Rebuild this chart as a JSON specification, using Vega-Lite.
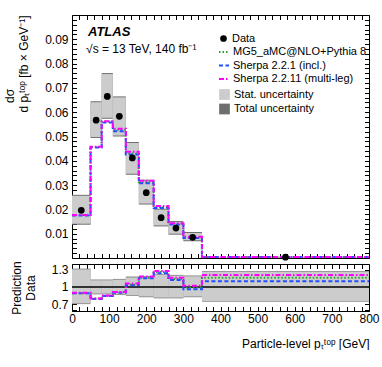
{
  "$schema": "https://vega.github.io/schema/vega-lite/v6.json",
  "padding": {"left": 3, "top": 13, "right": 13, "bottom": 0},
  "spacing": -2,
  "config": {
    "font": "Liberation Sans",
    "view": {"stroke": "black", "strokeWidth": 1},
    "axis": {
      "domain": false, "grid": false, "ticks": true, "tickSize": -4.5, "tickColor": "black", "tickWidth": 1,
      "labelFont": "Liberation Sans", "labelFontSize": 12, "labelColor": "black",
      "labelOverlap": false, "labelFlush": false,
      "titleFont": "Liberation Sans", "titleFontSize": 12, "titleFontWeight": "normal", "titleColor": "black"
    },
    "legend": {
      "labelFont": "Liberation Sans", "labelFontSize": 11, "labelColor": "black", "labelOffset": 3,
      "rowPadding": 2.5, "symbolStrokeWidth": 2, "title": null
    }
  },
  "datasets": {
    "bins": [
      {"lo": 0, "hi": 50, "c": 25, "data": 0.0196, "tlo": 0.0137, "thi": 0.0260, "slo": 0.0141, "shi": 0.0256},
      {"lo": 50, "hi": 80, "c": 65, "data": 0.0567, "tlo": 0.0494, "thi": 0.0645, "slo": 0.0498, "shi": 0.0641},
      {"lo": 80, "hi": 110, "c": 95, "data": 0.0665, "tlo": 0.0573, "thi": 0.0761, "slo": 0.0577, "shi": 0.0757},
      {"lo": 110, "hi": 145, "c": 127.5, "data": 0.0583, "tlo": 0.0500, "thi": 0.0665, "slo": 0.0504, "shi": 0.0661},
      {"lo": 145, "hi": 180, "c": 162.5, "data": 0.0412, "tlo": 0.0343, "thi": 0.0477, "slo": 0.0347, "shi": 0.0473},
      {"lo": 180, "hi": 220, "c": 200, "data": 0.0269, "tlo": 0.0220, "thi": 0.0322, "slo": 0.0224, "shi": 0.0318},
      {"lo": 220, "hi": 260, "c": 240, "data": 0.0166, "tlo": 0.0130, "thi": 0.0203, "slo": 0.0134, "shi": 0.0199},
      {"lo": 260, "hi": 300, "c": 280, "data": 0.0123, "tlo": 0.0096, "thi": 0.0152, "slo": 0.0100, "shi": 0.0148},
      {"lo": 300, "hi": 350, "c": 325, "data": 0.0085, "tlo": 0.0069, "thi": 0.0107, "slo": 0.0073, "shi": 0.0103},
      {"lo": 350, "hi": 800, "c": 575, "data": 0.00035, "tlo": 0.00026, "thi": 0.00045, "slo": 0.00028, "shi": 0.00043}
    ],
    "pred": [
      {"x": 0, "series": "MG5_aMC@NLO+Pythia 8", "v": 0.0177},
      {"x": 50, "series": "MG5_aMC@NLO+Pythia 8", "v": 0.0457},
      {"x": 80, "series": "MG5_aMC@NLO+Pythia 8", "v": 0.0562},
      {"x": 110, "series": "MG5_aMC@NLO+Pythia 8", "v": 0.0528},
      {"x": 145, "series": "MG5_aMC@NLO+Pythia 8", "v": 0.0430},
      {"x": 180, "series": "MG5_aMC@NLO+Pythia 8", "v": 0.0312},
      {"x": 220, "series": "MG5_aMC@NLO+Pythia 8", "v": 0.0210},
      {"x": 260, "series": "MG5_aMC@NLO+Pythia 8", "v": 0.0141},
      {"x": 300, "series": "MG5_aMC@NLO+Pythia 8", "v": 0.0084},
      {"x": 350, "series": "MG5_aMC@NLO+Pythia 8", "v": 0.00041},
      {"x": 800, "series": "MG5_aMC@NLO+Pythia 8", "v": 0.00041},
      {"x": 0, "series": "Sherpa 2.2.1 (incl.)", "v": 0.0175},
      {"x": 50, "series": "Sherpa 2.2.1 (incl.)", "v": 0.0455},
      {"x": 80, "series": "Sherpa 2.2.1 (incl.)", "v": 0.0558},
      {"x": 110, "series": "Sherpa 2.2.1 (incl.)", "v": 0.0522},
      {"x": 145, "series": "Sherpa 2.2.1 (incl.)", "v": 0.0426},
      {"x": 180, "series": "Sherpa 2.2.1 (incl.)", "v": 0.0308},
      {"x": 220, "series": "Sherpa 2.2.1 (incl.)", "v": 0.0206},
      {"x": 260, "series": "Sherpa 2.2.1 (incl.)", "v": 0.0138},
      {"x": 300, "series": "Sherpa 2.2.1 (incl.)", "v": 0.0082},
      {"x": 350, "series": "Sherpa 2.2.1 (incl.)", "v": 0.00038},
      {"x": 800, "series": "Sherpa 2.2.1 (incl.)", "v": 0.00038},
      {"x": 0, "series": "Sherpa 2.2.11 (multi-leg)", "v": 0.0177},
      {"x": 50, "series": "Sherpa 2.2.11 (multi-leg)", "v": 0.0458},
      {"x": 80, "series": "Sherpa 2.2.11 (multi-leg)", "v": 0.0563},
      {"x": 110, "series": "Sherpa 2.2.11 (multi-leg)", "v": 0.0532},
      {"x": 145, "series": "Sherpa 2.2.11 (multi-leg)", "v": 0.0437},
      {"x": 180, "series": "Sherpa 2.2.11 (multi-leg)", "v": 0.0318},
      {"x": 220, "series": "Sherpa 2.2.11 (multi-leg)", "v": 0.0214},
      {"x": 260, "series": "Sherpa 2.2.11 (multi-leg)", "v": 0.0143},
      {"x": 300, "series": "Sherpa 2.2.11 (multi-leg)", "v": 0.0087},
      {"x": 350, "series": "Sherpa 2.2.11 (multi-leg)", "v": 0.00042},
      {"x": 800, "series": "Sherpa 2.2.11 (multi-leg)", "v": 0.00042}
    ],
    "rbins": [
      {"lo": 0, "hi": 50, "tlo": 0.70, "thi": 1.32, "slo": 0.715, "shi": 1.305},
      {"lo": 50, "hi": 80, "tlo": 0.87, "thi": 1.13, "slo": 0.885, "shi": 1.115},
      {"lo": 80, "hi": 110, "tlo": 0.87, "thi": 1.13, "slo": 0.885, "shi": 1.115},
      {"lo": 110, "hi": 145, "tlo": 0.86, "thi": 1.14, "slo": 0.875, "shi": 1.125},
      {"lo": 145, "hi": 180, "tlo": 0.84, "thi": 1.18, "slo": 0.855, "shi": 1.165},
      {"lo": 180, "hi": 220, "tlo": 0.82, "thi": 1.19, "slo": 0.835, "shi": 1.175},
      {"lo": 220, "hi": 260, "tlo": 0.80, "thi": 1.23, "slo": 0.815, "shi": 1.215},
      {"lo": 260, "hi": 300, "tlo": 0.80, "thi": 1.21, "slo": 0.815, "shi": 1.195},
      {"lo": 300, "hi": 350, "tlo": 0.82, "thi": 1.20, "slo": 0.835, "shi": 1.185},
      {"lo": 350, "hi": 800, "tlo": 0.74, "thi": 1.28, "slo": 0.755, "shi": 1.265}
    ],
    "rpred": [
      {"x": 0, "series": "MG5_aMC@NLO+Pythia 8", "r": 0.89},
      {"x": 50, "series": "MG5_aMC@NLO+Pythia 8", "r": 0.80},
      {"x": 80, "series": "MG5_aMC@NLO+Pythia 8", "r": 0.84},
      {"x": 110, "series": "MG5_aMC@NLO+Pythia 8", "r": 0.91},
      {"x": 145, "series": "MG5_aMC@NLO+Pythia 8", "r": 1.04},
      {"x": 180, "series": "MG5_aMC@NLO+Pythia 8", "r": 1.16},
      {"x": 220, "series": "MG5_aMC@NLO+Pythia 8", "r": 1.26},
      {"x": 260, "series": "MG5_aMC@NLO+Pythia 8", "r": 1.14},
      {"x": 300, "series": "MG5_aMC@NLO+Pythia 8", "r": 0.99},
      {"x": 350, "series": "MG5_aMC@NLO+Pythia 8", "r": 1.16},
      {"x": 800, "series": "MG5_aMC@NLO+Pythia 8", "r": 1.16},
      {"x": 0, "series": "Sherpa 2.2.1 (incl.)", "r": 0.89},
      {"x": 50, "series": "Sherpa 2.2.1 (incl.)", "r": 0.79},
      {"x": 80, "series": "Sherpa 2.2.1 (incl.)", "r": 0.84},
      {"x": 110, "series": "Sherpa 2.2.1 (incl.)", "r": 0.90},
      {"x": 145, "series": "Sherpa 2.2.1 (incl.)", "r": 1.03},
      {"x": 180, "series": "Sherpa 2.2.1 (incl.)", "r": 1.15},
      {"x": 220, "series": "Sherpa 2.2.1 (incl.)", "r": 1.24},
      {"x": 260, "series": "Sherpa 2.2.1 (incl.)", "r": 1.12},
      {"x": 300, "series": "Sherpa 2.2.1 (incl.)", "r": 0.96},
      {"x": 350, "series": "Sherpa 2.2.1 (incl.)", "r": 1.10},
      {"x": 800, "series": "Sherpa 2.2.1 (incl.)", "r": 1.10},
      {"x": 0, "series": "Sherpa 2.2.11 (multi-leg)", "r": 0.90},
      {"x": 50, "series": "Sherpa 2.2.11 (multi-leg)", "r": 0.80},
      {"x": 80, "series": "Sherpa 2.2.11 (multi-leg)", "r": 0.85},
      {"x": 110, "series": "Sherpa 2.2.11 (multi-leg)", "r": 0.91},
      {"x": 145, "series": "Sherpa 2.2.11 (multi-leg)", "r": 1.06},
      {"x": 180, "series": "Sherpa 2.2.11 (multi-leg)", "r": 1.18},
      {"x": 220, "series": "Sherpa 2.2.11 (multi-leg)", "r": 1.28},
      {"x": 260, "series": "Sherpa 2.2.11 (multi-leg)", "r": 1.16},
      {"x": 300, "series": "Sherpa 2.2.11 (multi-leg)", "r": 1.02},
      {"x": 350, "series": "Sherpa 2.2.11 (multi-leg)", "r": 1.21},
      {"x": 800, "series": "Sherpa 2.2.11 (multi-leg)", "r": 1.21}
    ]
  },
  "vconcat": [
    {
      "width": 297,
      "height": 243,
      "resolve": {"axis": {"x": "independent", "y": "independent"}},
      "layer": [
        {
          "data": {"name": "bins"},
          "mark": {"type": "rect"},
          "encoding": {
            "x": {"field": "lo", "type": "quantitative", "scale": {"domain": [0, 800], "nice": false},
              "axis": {"orient": "bottom", "labels": false, "title": null, "minExtent": 0, "maxExtent": 0,
                "values": [0,20,40,60,80,100,120,140,160,180,200,220,240,260,280,300,320,340,360,380,400,420,440,460,480,500,520,540,560,580,600,620,640,660,680,700,720,740,760,780,800],
                "encode": {"ticks": {"y2": {"value": {"expr": "datum.value % 100 == 0 ? -9 : -4.5"}}}}}},
            "x2": {"field": "hi"},
            "y": {"field": "tlo", "type": "quantitative", "scale": {"domain": [0, 0.1], "nice": false, "zero": false},
              "axis": {"orient": "left", "labelPadding": 8.5, "titlePadding": 14, "titleAnchor": "end",
                "title": ["dσ\u00a0\u00a0\u00a0\u00a0\u00a0\u00a0\u00a0\u00a0\u00a0\u00a0\u00a0\u00a0\u00a0\u00a0\u00a0\u00a0\u00a0\u00a0\u00a0\u00a0\u00a0\u00a0\u200b", "d pₜᵗᵒᵖ [fb × GeV⁻¹]"],
                "values": [0.002,0.004,0.006,0.008,0.01,0.012,0.014,0.016,0.018,0.02,0.022,0.024,0.026,0.028,0.03,0.032,0.034,0.036,0.038,0.04,0.042,0.044,0.046,0.048,0.05,0.052,0.054,0.056,0.058,0.06,0.062,0.064,0.066,0.068,0.07,0.072,0.074,0.076,0.078,0.08,0.082,0.084,0.086,0.088,0.09,0.092,0.094,0.096,0.098],
                "labelExpr": "round(datum.value*500) % 5 == 0 ? format(datum.value, '.2f') : ''",
                "encode": {"ticks": {"x2": {"value": {"expr": "round(datum.value*500) % 5 == 0 ? 9 : 4.5"}}}}}},
            "y2": {"field": "thi"},
            "fill": {"datum": "Total uncertainty", "type": "nominal",
              "scale": {"domain": ["Stat. uncertainty", "Total uncertainty"], "range": ["#cccccc", "#6e6e6e"]},
              "legend": {"orient": "none", "legendX": 146, "legendY": 73, "symbolSize": 115, "symbolType": "square"}}
          }
        },
        {
          "data": {"name": "bins"},
          "mark": {"type": "rect"},
          "encoding": {
            "x": {"field": "lo", "type": "quantitative",
              "axis": {"orient": "top", "labels": false, "title": null, "minExtent": 0, "maxExtent": 0,
                "values": [0,20,40,60,80,100,120,140,160,180,200,220,240,260,280,300,320,340,360,380,400,420,440,460,480,500,520,540,560,580,600,620,640,660,680,700,720,740,760,780,800],
                "encode": {"ticks": {"y2": {"value": {"expr": "datum.value % 100 == 0 ? 9 : 4.5"}}}}}},
            "x2": {"field": "hi"},
            "y": {"field": "slo", "type": "quantitative",
              "axis": {"orient": "right", "labels": false, "title": null, "minExtent": 0, "maxExtent": 0,
                "values": [0.002,0.004,0.006,0.008,0.01,0.012,0.014,0.016,0.018,0.02,0.022,0.024,0.026,0.028,0.03,0.032,0.034,0.036,0.038,0.04,0.042,0.044,0.046,0.048,0.05,0.052,0.054,0.056,0.058,0.06,0.062,0.064,0.066,0.068,0.07,0.072,0.074,0.076,0.078,0.08,0.082,0.084,0.086,0.088,0.09,0.092,0.094,0.096,0.098],
                "encode": {"ticks": {"x2": {"value": {"expr": "round(datum.value*500) % 5 == 0 ? -9 : -4.5"}}}}}},
            "y2": {"field": "shi"},
            "fill": {"datum": "Stat. uncertainty", "type": "nominal"}
          }
        },
        {
          "data": {"name": "pred"},
          "mark": {"type": "line", "interpolate": "step-after", "strokeWidth": 2},
          "encoding": {
            "x": {"field": "x", "type": "quantitative", "axis": null},
            "y": {"field": "v", "type": "quantitative", "axis": null},
            "color": {"field": "series", "type": "nominal",
              "scale": {"domain": ["MG5_aMC@NLO+Pythia 8", "Sherpa 2.2.1 (incl.)", "Sherpa 2.2.11 (multi-leg)"],
                "range": ["#2ca02c", "#1f4fff", "#ff00ff"]},
              "legend": {"orient": "none", "legendX": 146, "legendY": 31, "symbolSize": 100, "symbolType": "stroke"}},
            "strokeDash": {"field": "series", "type": "nominal",
              "scale": {"domain": ["MG5_aMC@NLO+Pythia 8", "Sherpa 2.2.1 (incl.)", "Sherpa 2.2.11 (multi-leg)"],
                "range": [[1.5, 2], [4, 2.5], [5, 2, 1.5, 2]]},
              "legend": {"orient": "none", "legendX": 146, "legendY": 31, "symbolSize": 100, "symbolType": "stroke"}}
          }
        },
        {
          "data": {"name": "bins"},
          "mark": {"type": "point", "filled": true, "color": "black", "opacity": 1, "size": 45},
          "encoding": {
            "x": {"field": "c", "type": "quantitative", "axis": null},
            "y": {"field": "data", "type": "quantitative", "axis": null},
            "shape": {"datum": "Data", "type": "nominal", "scale": {"domain": ["Data"], "range": ["circle"]},
              "legend": {"orient": "none", "legendX": 146, "legendY": 18, "symbolSize": 45}}
          }
        },
        {
          "data": {"values": [{}]},
          "mark": {"type": "text", "text": "ATLAS", "font": "Liberation Sans", "fontSize": 13, "fontWeight": "bold", "fontStyle": "italic", "align": "left", "baseline": "alphabetic", "color": "black"},
          "encoding": {
            "x": {"datum": 43, "type": "quantitative", "axis": null},
            "y": {"datum": 0.0915, "type": "quantitative", "axis": null}
          }
        },
        {
          "data": {"values": [{}]},
          "mark": {"type": "text", "text": "√s = 13 TeV, 140 fb⁻¹", "font": "Liberation Sans", "fontSize": 12, "align": "left", "baseline": "alphabetic", "color": "black"},
          "encoding": {
            "x": {"datum": 38, "type": "quantitative", "axis": null},
            "y": {"datum": 0.0843, "type": "quantitative", "axis": null}
          }
        }
      ]
    },
    {
      "width": 297,
      "height": 47,
      "resolve": {"axis": {"x": "independent", "y": "independent"}},
      "layer": [
        {
          "data": {"name": "rbins"},
          "mark": {"type": "rect", "color": "#8a8a8a"},
          "encoding": {
            "x": {"field": "lo", "type": "quantitative", "scale": {"domain": [0, 800], "nice": false},
              "axis": {"orient": "bottom", "labelPadding": 6.5, "title": "Particle-level pₜᵗᵒᵖ [GeV]", "titleAnchor": "end", "titlePadding": 14,
                "values": [0,20,40,60,80,100,120,140,160,180,200,220,240,260,280,300,320,340,360,380,400,420,440,460,480,500,520,540,560,580,600,620,640,660,680,700,720,740,760,780,800],
                "labelExpr": "datum.value % 100 == 0 ? datum.label : ''",
                "encode": {
                  "ticks": {"y2": {"value": {"expr": "datum.value % 100 == 0 ? -9 : -4.5"}}},
                  "labels": {"align": {"value": {"expr": "datum.value == 800 ? 'right' : 'center'"}}}
                }}},
            "x2": {"field": "hi"},
            "y": {"field": "tlo", "type": "quantitative", "scale": {"domain": [0.58, 1.4], "nice": false, "zero": false},
              "axis": {"orient": "left", "labelPadding": 8.5, "titlePadding": 14, "title": ["Prediction", "Data"],
                "values": [0.6, 0.7, 0.8, 0.9, 1, 1.1, 1.2, 1.3],
                "labelExpr": "round(datum.value*10) == 7 ? '0.7' : round(datum.value*10) == 10 ? '1' : round(datum.value*10) == 13 ? '1.3' : ''",
                "encode": {"ticks": {"x2": {"value": {"expr": "indexof([7, 10, 13], round(datum.value*10)) >= 0 ? 9 : 4.5"}}}}}},
            "y2": {"field": "thi"}
          }
        },
        {
          "data": {"name": "rbins"},
          "mark": {"type": "rect", "color": "#cccccc"},
          "encoding": {
            "x": {"field": "lo", "type": "quantitative",
              "axis": {"orient": "top", "labels": false, "title": null, "minExtent": 0, "maxExtent": 0,
                "values": [0,20,40,60,80,100,120,140,160,180,200,220,240,260,280,300,320,340,360,380,400,420,440,460,480,500,520,540,560,580,600,620,640,660,680,700,720,740,760,780,800],
                "encode": {"ticks": {"y2": {"value": {"expr": "datum.value % 100 == 0 ? 9 : 4.5"}}}}}},
            "x2": {"field": "hi"},
            "y": {"field": "slo", "type": "quantitative",
              "axis": {"orient": "right", "labels": false, "title": null, "minExtent": 0, "maxExtent": 0,
                "values": [0.6, 0.7, 0.8, 0.9, 1, 1.1, 1.2, 1.3],
                "encode": {"ticks": {"x2": {"value": {"expr": "indexof([7, 10, 13], round(datum.value*10)) >= 0 ? -9 : -4.5"}}}}}},
            "y2": {"field": "shi"}
          }
        },
        {
          "data": {"values": [{}]},
          "mark": {"type": "rule", "color": "black", "strokeWidth": 1.5},
          "encoding": {
            "y": {"datum": 1, "type": "quantitative", "axis": null}
          }
        },
        {
          "data": {"name": "rpred"},
          "mark": {"type": "line", "interpolate": "step-after", "strokeWidth": 2},
          "encoding": {
            "x": {"field": "x", "type": "quantitative", "axis": null},
            "y": {"field": "r", "type": "quantitative", "axis": null},
            "color": {"field": "series", "type": "nominal"},
            "strokeDash": {"field": "series", "type": "nominal"}
          }
        }
      ]
    }
  ]
}
